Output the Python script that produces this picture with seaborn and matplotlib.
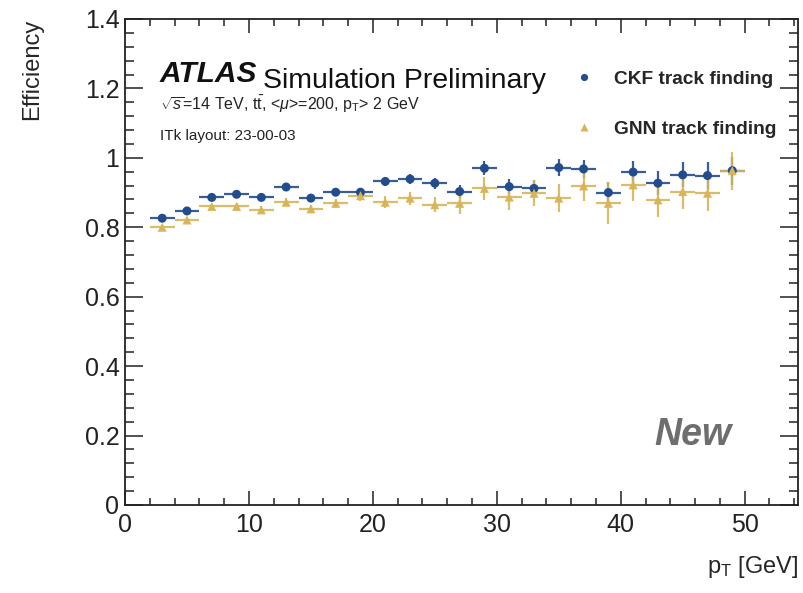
"""
CKF vs GNN track finding efficiency vs pT (ATLAS ITk style plot)
"""

import matplotlib
matplotlib.use('Agg')
import matplotlib.pyplot as plt
from matplotlib.ticker import MultipleLocator, FuncFormatter
import seaborn as sns
import pandas as pd

# pT bin centres [GeV], bins are 2 GeV wide
pt_centers = [3, 5, 7, 9, 11, 13, 15, 17, 19, 21, 23, 25,
              27, 29, 31, 33, 35, 37, 39, 41, 43, 45, 47, 49]
pt_halfwidth = 1.0

ckf_eff = [0.826, 0.847, 0.886, 0.895, 0.886, 0.916, 0.884, 0.901, 0.901, 0.932, 0.939, 0.927,
           0.903, 0.970, 0.917, 0.912, 0.972, 0.968, 0.900, 0.959, 0.927, 0.951, 0.949, 0.963]
ckf_err = [0.005, 0.006, 0.006, 0.007, 0.008, 0.009, 0.010, 0.011, 0.012, 0.013, 0.015, 0.016,
           0.018, 0.020, 0.022, 0.024, 0.025, 0.027, 0.030, 0.032, 0.034, 0.036, 0.038, 0.040]

gnn_eff = [0.800, 0.821, 0.860, 0.860, 0.850, 0.872, 0.853, 0.869, 0.891, 0.872, 0.884, 0.865,
           0.869, 0.912, 0.887, 0.898, 0.884, 0.919, 0.869, 0.922, 0.879, 0.903, 0.898, 0.963]
gnn_err = [0.006, 0.007, 0.008, 0.009, 0.010, 0.011, 0.012, 0.013, 0.015, 0.017, 0.019, 0.021,
           0.031, 0.034, 0.036, 0.038, 0.040, 0.042, 0.060, 0.045, 0.048, 0.050, 0.052, 0.055]

CKF_COLOR = '#224c8c'
GNN_COLOR = '#d8b558'

sns.set_theme(style='ticks')
plt.rcParams['font.family'] = ['Liberation Sans', 'DejaVu Sans']
plt.rcParams['mathtext.fontset'] = 'custom'
plt.rcParams['mathtext.rm'] = 'Liberation Sans'
plt.rcParams['mathtext.it'] = 'Liberation Sans:italic'
plt.rcParams['mathtext.bf'] = 'Liberation Sans:bold'

df = pd.concat([
    pd.DataFrame({'pt': pt_centers, 'eff': ckf_eff, 'err': ckf_err, 'algo': 'CKF track finding'}),
    pd.DataFrame({'pt': pt_centers, 'eff': gnn_eff, 'err': gnn_err, 'algo': 'GNN track finding'}),
], ignore_index=True)

fig = plt.figure(figsize=(8.04, 5.93), dpi=100)
ax = fig.add_axes([0.1555, 0.1484, 0.8370, 0.8196])

# error bars first, markers on top
for algo, color in [('CKF track finding', CKF_COLOR), ('GNN track finding', GNN_COLOR)]:
    sub = df[df['algo'] == algo]
    ax.errorbar(sub['pt'], sub['eff'], xerr=pt_halfwidth, yerr=sub['err'],
                fmt='none', ecolor=color, elinewidth=1.6, capsize=0, alpha=0.9)

sns.scatterplot(data=df, x='pt', y='eff', hue='algo', style='algo',
                markers={'CKF track finding': 'o', 'GNN track finding': '^'},
                palette={'CKF track finding': CKF_COLOR, 'GNN track finding': GNN_COLOR},
                s=42, edgecolor='none', ax=ax, zorder=3)

ax.set_xlim(0, 54.3)
ax.set_ylim(0, 1.4)

# ROOT-like axes: ticks inside on all sides
ax.xaxis.set_major_locator(MultipleLocator(10))
ax.xaxis.set_minor_locator(MultipleLocator(2))
ax.yaxis.set_major_locator(MultipleLocator(0.2))
ax.yaxis.set_minor_locator(MultipleLocator(0.04))
ax.yaxis.set_major_formatter(FuncFormatter(lambda v, p: f'{v:g}'))
ax.tick_params(axis='both', which='both', direction='in', top=True, right=True,
               labelsize=18, width=1.1, colors='#222222')
ax.tick_params(axis='x', which='major', length=10, pad=6)
ax.tick_params(axis='x', which='minor', length=5)
ax.tick_params(axis='y', which='major', length=13, pad=4)
ax.tick_params(axis='y', which='minor', length=6.5)
for sp in ax.spines.values():
    sp.set_linewidth(1.3)
    sp.set_color('#222222')

ax.set_xlabel(r'p$_{\rm T}$ [GeV]', fontsize=17, loc='right', labelpad=12)
ax.set_ylabel('Efficiency', fontsize=17, loc='top', labelpad=30)

# legend
handles, labels = ax.get_legend_handles_labels()
leg = ax.legend(handles, labels, loc='upper left', bbox_to_anchor=(0.628, 0.93),
                frameon=False, labelspacing=1.7, handletextpad=0.55, markerscale=0.8,
                prop={'weight': 'bold', 'size': 13.8})

# ATLAS label block
atlas = ax.text(0.052, 0.870, 'ATLAS', transform=ax.transAxes, fontsize=21.5,
                fontweight='bold', fontstyle='italic', color='#111111')
ax.annotate('Simulation Preliminary', xy=(1, 0), xycoords=atlas,
            xytext=(4, 0), textcoords='offset points', fontsize=20.5, color='#111111')
ax.text(0.052, 0.813, r'$\sqrt{s}$=14 TeV, t$\bar{\rm t}$, <$\mu$>=200, p$_{\rm T}$> 2 GeV',
        transform=ax.transAxes, fontsize=11.5, color='#222222')
ax.text(0.052, 0.751, 'ITk layout: 23-00-03', transform=ax.transAxes,
        fontsize=11, color='#222222')

ax.text(0.787, 0.123, 'New', transform=ax.transAxes, fontsize=27,
        fontweight='bold', fontstyle='italic', color='#6e6e6e')

fig.savefig('out.png', dpi=100)
